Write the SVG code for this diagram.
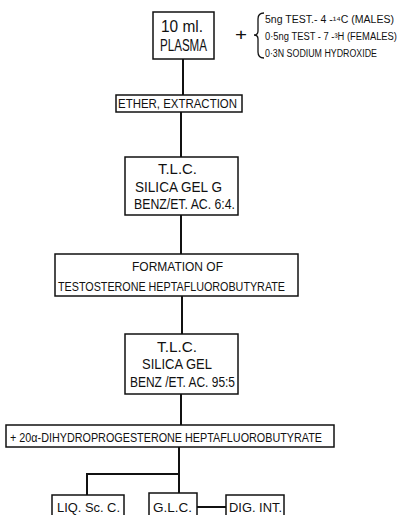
<svg xmlns="http://www.w3.org/2000/svg" width="405" height="515" viewBox="0 0 405 515">
<style>
.box{fill:#fff;stroke:#111;stroke-width:1.5}
.ln{fill:none;stroke:#111;stroke-width:2}
text{font-family:"Liberation Sans",Arial,sans-serif;fill:#111}
.t13{font-size:13px}
.t14{font-size:14.5px}
.t10{font-size:10px}
.t16{font-size:16px}
</style>
<rect width="405" height="515" fill="#fff"/>
<g id="connectors">
<line class="ln" x1="183" y1="59" x2="183" y2="95"/>
<line class="ln" x1="181" y1="112" x2="181" y2="157"/>
<line class="ln" x1="181" y1="215" x2="181" y2="254"/>
<line class="ln" x1="182" y1="296" x2="182" y2="334"/>
<line class="ln" x1="181" y1="394" x2="181" y2="425"/>
<polyline class="ln" points="179,447 179,493"/>
<polyline class="ln" points="179,474 87,474 87,495"/>
<line class="ln" x1="197" y1="507" x2="226" y2="507"/>
</g>
<g id="plasma">
<rect class="box" x="153" y="12" width="61" height="47"/>
<text class="t16" x="161" y="32" textLength="42" lengthAdjust="spacingAndGlyphs">10 ml.</text>
<text class="t16" x="160" y="51" textLength="47" lengthAdjust="spacingAndGlyphs">PLASMA</text>
</g>
<g id="additives">
<text class="t16" x="235" y="40" textLength="12" lengthAdjust="spacingAndGlyphs">+</text>
<path d="M264,13 Q258,13 258,19 L258,31 Q258,35 254,35 Q258,35 258,39 L258,52 Q258,58 264,58" fill="none" stroke="#111" stroke-width="1.3"/>
<text class="t10" x="265" y="23" textLength="129" lengthAdjust="spacingAndGlyphs">5ng TEST.- 4 -¹⁴C (MALES)</text>
<text class="t10" x="265" y="40" textLength="132" lengthAdjust="spacingAndGlyphs">0·5ng TEST - 7 -³H (FEMALES)</text>
<text class="t10" x="265" y="57" textLength="112" lengthAdjust="spacingAndGlyphs">0·3N SODIUM HYDROXIDE</text>
</g>
<g id="ether">
<rect class="box" x="116" y="95" width="126" height="17"/>
<text class="t13" x="118" y="108" textLength="119" lengthAdjust="spacingAndGlyphs">ETHER, EXTRACTION</text>
</g>
<g id="tlc1">
<rect class="box" x="125" y="157" width="113" height="58"/>
<text class="t14" x="158" y="174" textLength="39" lengthAdjust="spacingAndGlyphs">T.L.C.</text>
<text class="t14" x="135" y="192" textLength="87" lengthAdjust="spacingAndGlyphs">SILICA GEL  G</text>
<text class="t14" x="134" y="209" textLength="101" lengthAdjust="spacingAndGlyphs">BENZ/ET. AC. 6:4.</text>
</g>
<g id="formation">
<rect class="box" x="55" y="254" width="243" height="42"/>
<text class="t13" x="132" y="271" textLength="91" lengthAdjust="spacingAndGlyphs">FORMATION  OF</text>
<text class="t13" x="58" y="291" textLength="227" lengthAdjust="spacingAndGlyphs">TESTOSTERONE  HEPTAFLUOROBUTYRATE</text>
</g>
<g id="tlc2">
<rect class="box" x="125" y="334" width="113" height="60"/>
<text class="t14" x="157" y="352" textLength="40" lengthAdjust="spacingAndGlyphs">T.L.C.</text>
<text class="t14" x="142" y="369" textLength="70" lengthAdjust="spacingAndGlyphs">SILICA  GEL</text>
<text class="t14" x="130" y="387" textLength="105" lengthAdjust="spacingAndGlyphs">BENZ /ET. AC. 95:5</text>
</g>
<g id="dihydro">
<rect class="box" x="6" y="425" width="328" height="22"/>
<text class="t13" x="10" y="442" textLength="312" lengthAdjust="spacingAndGlyphs">+ 20α-DIHYDROPROGESTERONE   HEPTAFLUOROBUTYRATE</text>
</g>
<g id="liq">
<rect class="box" x="52" y="495" width="72" height="25"/>
<text class="t13" x="57" y="512" textLength="63" lengthAdjust="spacingAndGlyphs">LIQ. Sc. C.</text>
</g>
<g id="glc">
<rect class="box" x="149" y="493" width="48" height="27"/>
<text class="t13" x="153" y="512" textLength="39" lengthAdjust="spacingAndGlyphs">G.L.C.</text>
</g>
<g id="digint">
<rect class="box" x="226" y="495" width="58" height="25"/>
<text class="t13" x="229" y="512" textLength="53" lengthAdjust="spacingAndGlyphs">DIG. INT.</text>
</g>
</svg>
